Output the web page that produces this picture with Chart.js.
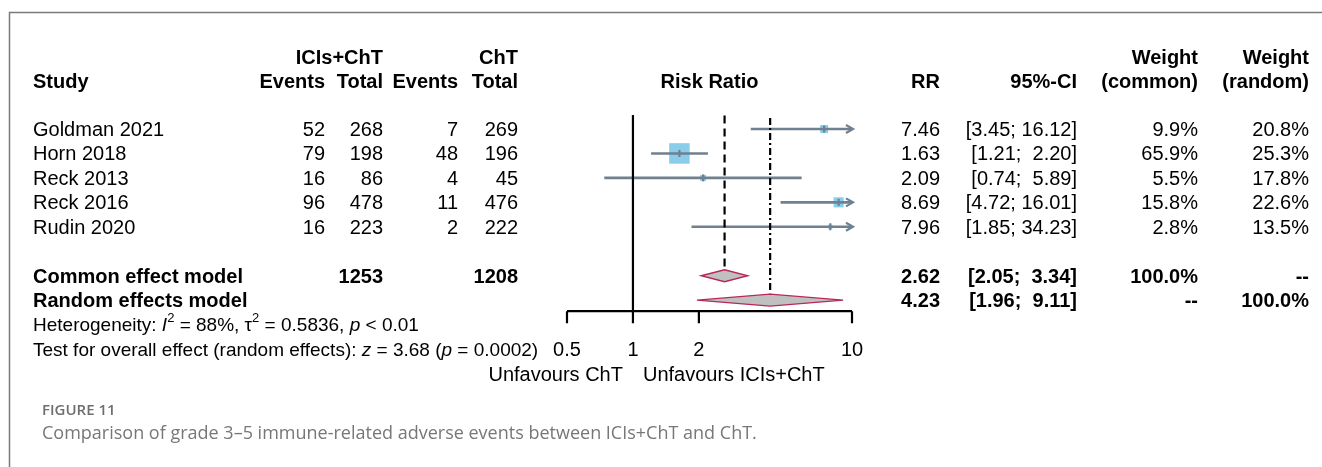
<!DOCTYPE html>
<html>
<head>
<meta charset="utf-8">
<script src="https://cdn.jsdelivr.net/npm/chart.js@4/dist/chart.umd.min.js"></script>
<style>
  html, body { margin: 0; padding: 0; background: #ffffff; }
  canvas { display: block; }
</style>
</head>
<body>
<canvas id="forest" width="1322" height="467"></canvas>
<script>
// Study-level data
const studies   = ['Goldman 2021', 'Horn 2018', 'Reck 2013', 'Reck 2016', 'Rudin 2020'];
const eventsExp = [52, 79, 16, 96, 16];
const totalExp  = [268, 198, 86, 478, 223];
const eventsCtl = [7, 48, 4, 11, 2];
const totalCtl  = [269, 196, 45, 476, 222];
const rr        = [7.46, 1.63, 2.09, 8.69, 7.96];
const ciLow     = [3.45, 1.21, 0.74, 4.72, 1.85];
const ciHigh    = [16.12, 2.20, 5.89, 16.01, 34.23];
const wCommon   = [9.9, 65.9, 5.5, 15.8, 2.8];
const wRandom   = [20.8, 25.3, 17.8, 22.6, 13.5];

// Pooled estimates
const pooledLabels = ['Common effect model', 'Random effects model'];
const pooledRR     = [2.62, 4.23];
const pooledLow    = [2.05, 1.96];
const pooledHigh   = [3.34, 9.11];
const pooledWc     = ['100.0%', '--'];
const pooledWr     = ['--', '100.0%'];
const pooledTotals = [1253, 1208];

// Axis
const axisTicks = [0.5, 1, 2, 10];
const axisMin = 0.5, axisMax = 10;

const FONT = '"Liberation Sans", Arial, sans-serif';
const FS = 20;        // table and axis text
const FS_HET = 19;    // heterogeneity / overall test lines
const TEXT_DY = 1.5;  // small baseline nudge for middle-aligned text
const LINE_COL = '#6f8190';
const BOX_COL = '#89cdea';
const DIAMOND_FILL = '#c0c0c0';
const DIAMOND_LINE = '#b8285c';

// row index of each element on the y scale
const studyRows = studies.map((_, i) => i);
const pooledRows = [6, 7];

// one line dataset per confidence interval (clamped to the axis range, arrows added later)
const ciDatasets = studies.map((s, i) => ({
  type: 'line',
  label: s,
  data: [
    { x: Math.max(ciLow[i], axisMin), y: studyRows[i] },
    { x: Math.min(ciHigh[i], axisMax), y: studyRows[i] }
  ],
  borderColor: LINE_COL,
  borderWidth: 2.6,
  pointRadius: 0,
  clip: false,
  order: 1
}));

const boxDataset = {
  type: 'scatter',
  label: 'RR',
  data: rr.map((v, i) => ({ x: v, y: studyRows[i] })),
  pointStyle: 'rect',
  pointRadius: wCommon.map(w => 20.5 * Math.sqrt(w / 65.9) / Math.SQRT2),
  pointBackgroundColor: BOX_COL,
  pointBorderWidth: 0,
  borderWidth: 0,
  clip: false,
  order: 2
};

function runText(ctx, runs, x, y) {
  let cx = x;
  ctx.textAlign = 'left';
  ctx.textBaseline = 'middle';
  for (const r of runs) {
    const size = r.sup ? 13 : FS_HET;
    ctx.font = (r.i ? 'italic ' : '') + size + 'px ' + FONT;
    const yy = r.sup ? y - 8 : y;
    ctx.fillText(r.t, cx, yy);
    cx += ctx.measureText(r.t).width;
  }
}

function fmtCI(lo, hi) {
  return '[' + lo.toFixed(2) + ';' + (hi < 10 ? '  ' : ' ') + hi.toFixed(2) + ']';
}

function vline(ctx, x, y0, y1, dash) {
  ctx.setLineDash(dash);
  ctx.beginPath();
  ctx.moveTo(x, y0);
  ctx.lineTo(x, y1);
  ctx.stroke();
}

const forestPlugin = {
  id: 'forest',
  afterDatasetsDraw(chart) {
    const { ctx } = chart;
    const xs = chart.scales.x, ys = chart.scales.y;
    const axisY = ys.getPixelForValue(7.45);
    const ty = k => ys.getPixelForValue(k) + TEXT_DY;
    ctx.save();

    // estimate markers and arrows
    ctx.strokeStyle = LINE_COL;
    ctx.lineWidth = 2.2;
    studies.forEach((s, i) => {
      const y = ys.getPixelForValue(studyRows[i]);
      const x = xs.getPixelForValue(rr[i]);
      ctx.beginPath();
      ctx.moveTo(x, y - 3.5);
      ctx.lineTo(x, y + 3.5);
      ctx.stroke();
      if (ciHigh[i] > axisMax) {
        const xe = xs.getPixelForValue(axisMax) + 1;
        ctx.beginPath();
        ctx.moveTo(xe - 7, y - 4);
        ctx.lineTo(xe, y);
        ctx.lineTo(xe - 7, y + 4);
        ctx.stroke();
      }
    });

    // reference lines: no effect, common (dashed), random (dash-dot)
    ctx.strokeStyle = '#000';
    ctx.lineWidth = 2.2;
    vline(ctx, xs.getPixelForValue(1), ys.getPixelForValue(-0.57), axisY, []);
    vline(ctx, xs.getPixelForValue(pooledRR[0]), ys.getPixelForValue(-0.55), ys.getPixelForValue(5.72), [8, 5]);
    vline(ctx, xs.getPixelForValue(pooledRR[1]), ys.getPixelForValue(-0.45), ys.getPixelForValue(6.72), [7, 3, 2, 3]);
    ctx.setLineDash([]);

    // pooled diamonds
    pooledRR.forEach((v, i) => {
      const y = ys.getPixelForValue(pooledRows[i]);
      const h = 6;
      ctx.beginPath();
      ctx.moveTo(xs.getPixelForValue(pooledLow[i]), y);
      ctx.lineTo(xs.getPixelForValue(v), y - h);
      ctx.lineTo(xs.getPixelForValue(pooledHigh[i]), y);
      ctx.lineTo(xs.getPixelForValue(v), y + h);
      ctx.closePath();
      ctx.fillStyle = DIAMOND_FILL;
      ctx.fill();
      ctx.strokeStyle = DIAMOND_LINE;
      ctx.lineWidth = 1.4;
      ctx.stroke();
    });

    // x axis
    ctx.strokeStyle = '#000';
    ctx.lineWidth = 2.2;
    ctx.beginPath();
    ctx.moveTo(xs.getPixelForValue(axisMin), axisY);
    ctx.lineTo(xs.getPixelForValue(axisMax), axisY);
    axisTicks.forEach(t => {
      const x = xs.getPixelForValue(t);
      ctx.moveTo(x, axisY);
      ctx.lineTo(x, axisY + 12);
    });
    ctx.stroke();

    ctx.fillStyle = '#000';
    ctx.textBaseline = 'middle';
    ctx.font = FS + 'px ' + FONT;
    ctx.textAlign = 'center';
    axisTicks.forEach(t => {
      ctx.fillText(String(t), xs.getPixelForValue(t), ty(9));
    });
    const x1 = xs.getPixelForValue(1);
    ctx.textAlign = 'right';
    ctx.fillText('Unfavours ChT', x1 - 10, ty(10));
    ctx.textAlign = 'left';
    ctx.fillText('Unfavours ICIs+ChT', x1 + 10, ty(10));

    // table text
    const col = { study: 33, ev1: 325, tot1: 383, ev2: 458, tot2: 518, rr: 940, ci: 1077, wc: 1198, wr: 1309 };
    const put = (s, x, k, align, bold) => {
      ctx.font = (bold ? 'bold ' : '') + FS + 'px ' + FONT;
      ctx.textAlign = align;
      ctx.fillText(s, x, ty(k));
    };
    // headers
    const h1 = -2.94, h2 = -1.95;
    put('ICIs+ChT', col.tot1, h1, 'right', true);
    put('ChT', col.tot2, h1, 'right', true);
    put('Weight', col.wc, h1, 'right', true);
    put('Weight', col.wr, h1, 'right', true);
    put('Study', col.study, h2, 'left', true);
    put('Events', col.ev1, h2, 'right', true);
    put('Total', col.tot1, h2, 'right', true);
    put('Events', col.ev2, h2, 'right', true);
    put('Total', col.tot2, h2, 'right', true);
    put('Risk Ratio', (xs.left + xs.right) / 2, h2, 'center', true);
    put('RR', col.rr, h2, 'right', true);
    put('95%-CI', col.ci, h2, 'right', true);
    put('(common)', col.wc, h2, 'right', true);
    put('(random)', col.wr, h2, 'right', true);

    // study rows
    studies.forEach((s, i) => {
      const k = studyRows[i];
      put(s, col.study, k, 'left', false);
      put(String(eventsExp[i]), col.ev1, k, 'right', false);
      put(String(totalExp[i]), col.tot1, k, 'right', false);
      put(String(eventsCtl[i]), col.ev2, k, 'right', false);
      put(String(totalCtl[i]), col.tot2, k, 'right', false);
      put(rr[i].toFixed(2), col.rr, k, 'right', false);
      put(fmtCI(ciLow[i], ciHigh[i]), col.ci, k, 'right', false);
      put(wCommon[i].toFixed(1) + '%', col.wc, k, 'right', false);
      put(wRandom[i].toFixed(1) + '%', col.wr, k, 'right', false);
    });

    // pooled rows
    pooledLabels.forEach((s, i) => {
      const k = pooledRows[i];
      put(s, col.study, k, 'left', true);
      put(pooledRR[i].toFixed(2), col.rr, k, 'right', true);
      put(fmtCI(pooledLow[i], pooledHigh[i]), col.ci, k, 'right', true);
      put(pooledWc[i], col.wc, k, 'right', true);
      put(pooledWr[i], col.wr, k, 'right', true);
    });
    put(String(pooledTotals[0]), col.tot1, pooledRows[0], 'right', true);
    put(String(pooledTotals[1]), col.tot2, pooledRows[0], 'right', true);

    // heterogeneity and overall test
    runText(ctx, [
      { t: 'Heterogeneity: ' }, { t: 'I', i: true }, { t: '2', sup: true },
      { t: ' = 88%, ' }, { t: 'τ' }, { t: '2', sup: true },
      { t: ' = 0.5836, ' }, { t: 'p', i: true }, { t: ' < 0.01' }
    ], col.study, ty(8));
    runText(ctx, [
      { t: 'Test for overall effect (random effects): ' }, { t: 'z', i: true },
      { t: ' = 3.68 (' }, { t: 'p', i: true }, { t: ' = 0.0002)' }
    ], col.study, ty(9));

    // caption
    ctx.textAlign = 'left';
    ctx.fillStyle = '#6e6e6e';
    ctx.font = '600 15px "Open Sans", "Noto Sans", sans-serif';
    ctx.fillText('FIGURE 11', 42, 411);
    ctx.fillStyle = '#777777';
    ctx.font = '18px "Open Sans", "Noto Sans", sans-serif';
    ctx.fillText('Comparison of grade 3\u20135 immune-related adverse events between ICIs+ChT and ChT.', 42, 434);

    // frame
    ctx.strokeStyle = '#7a7a7a';
    ctx.lineWidth = 1.5;
    ctx.beginPath();
    ctx.moveTo(9.5, 467);
    ctx.lineTo(9.5, 12.5);
    ctx.lineTo(1322, 12.5);
    ctx.stroke();

    ctx.restore();
  }
};

new Chart(document.getElementById('forest'), {
  data: { datasets: [...ciDatasets, boxDataset] },
  options: {
    responsive: false,
    animation: false,
    devicePixelRatio: 1,
    layout: { autoPadding: false, padding: { left: 567, right: 1322 - 852, top: 0, bottom: 0 } },
    plugins: { legend: { display: false }, tooltip: { enabled: false } },
    scales: {
      x: { type: 'logarithmic', min: axisMin, max: axisMax, display: false },
      y: { type: 'linear', min: -5.276, max: 13.824, reverse: true, display: false }
    }
  },
  plugins: [forestPlugin]
});
</script>
</body>
</html>
